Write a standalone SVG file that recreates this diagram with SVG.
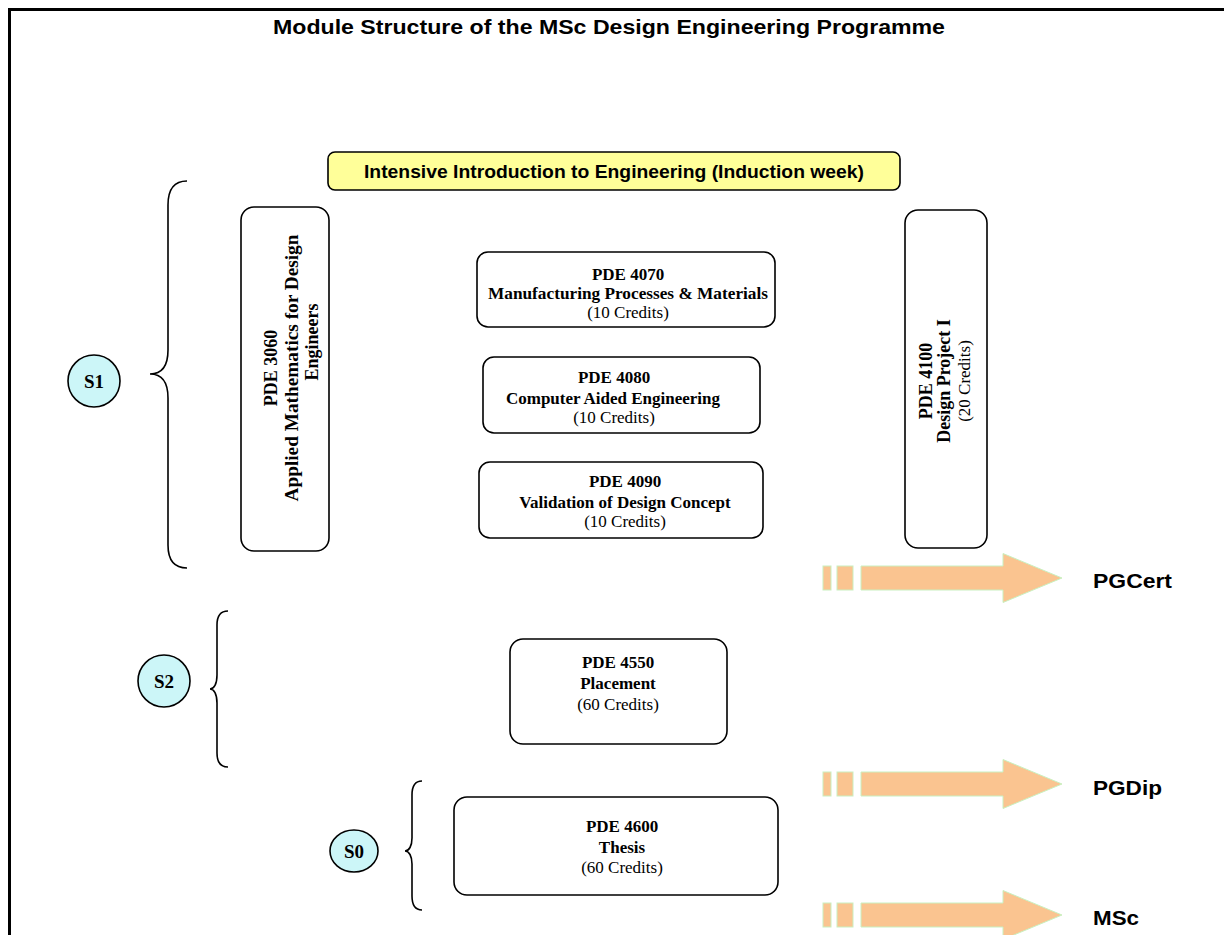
<svg xmlns="http://www.w3.org/2000/svg" width="1224" height="935" viewBox="0 0 1224 935">
<style>
.box{fill:#fff;stroke:#000;stroke-width:1.6}
.ind{fill:#ffff99;stroke:#000;stroke-width:1.6}
.b{font-family:"Liberation Serif","Times New Roman",serif;font-weight:bold;font-size:17px;fill:#000;text-anchor:middle}
.n{font-family:"Liberation Serif","Times New Roman",serif;font-size:17px;fill:#000;text-anchor:middle}
.vb{font-family:"Liberation Serif","Times New Roman",serif;font-weight:bold;font-size:18px;fill:#000;text-anchor:middle}
.vn{font-family:"Liberation Serif","Times New Roman",serif;font-size:17px;fill:#000;text-anchor:middle}
.sans{font-family:"Liberation Sans",Arial,sans-serif;font-weight:bold;fill:#000}
.sem{fill:#ccf6f8;stroke:#000;stroke-width:1.6}
.st{font-family:"Liberation Serif","Times New Roman",serif;font-weight:bold;font-size:19px;fill:#000;text-anchor:middle}
.brace{fill:none;stroke:#000;stroke-width:1.6}
.arr{fill:#fac490;stroke:#c9f0c0;stroke-width:1}
</style>
<defs>
<g id="bigarrow">
<rect class="arr" x="823" y="-12" width="8" height="24"/>
<rect class="arr" x="837" y="-12" width="16" height="24"/>
<path class="arr" d="M861,-12 H1003 V-24.5 L1062,0 L1003,24.5 V12 H861 Z"/>
</g>
</defs>

<g id="frame">
<path d="M8,9.5 H1224 M9.5,8 V935" fill="none" stroke="#000" stroke-width="3"/>
</g>

<g id="title">
<text class="sans" x="609" y="34" font-size="21" text-anchor="middle" textLength="672" lengthAdjust="spacingAndGlyphs">Module Structure of the MSc Design Engineering Programme</text>
</g>

<g id="induction">
<rect class="ind" x="328" y="152" width="572" height="38" rx="7"/>
<text class="sans" x="614" y="178" font-size="18" text-anchor="middle" textLength="500" lengthAdjust="spacingAndGlyphs">Intensive Introduction to Engineering (Induction week)</text>
</g>

<g id="pde3060">
<rect class="box" x="241" y="207" width="88" height="344" rx="13"/>
<text class="vb" transform="translate(277,368) rotate(-90)">PDE 3060</text>
<text class="vb" transform="translate(298,368) rotate(-90)" textLength="267" lengthAdjust="spacingAndGlyphs">Applied Mathematics for Design</text>
<text class="vb" transform="translate(318,342) rotate(-90)">Engineers</text>
</g>

<g id="pde4070">
<rect class="box" x="477" y="252" width="298" height="75" rx="11"/>
<text class="b" x="628" y="280">PDE 4070</text>
<text class="b" x="628" y="299" textLength="280" lengthAdjust="spacingAndGlyphs">Manufacturing Processes &amp; Materials</text>
<text class="n" x="628" y="318">(10 Credits)</text>
</g>

<g id="pde4080">
<rect class="box" x="483" y="357" width="277" height="76" rx="11"/>
<text class="b" x="614" y="383">PDE 4080</text>
<text class="b" x="613" y="404">Computer Aided Engineering</text>
<text class="n" x="614" y="423">(10 Credits)</text>
</g>

<g id="pde4090">
<rect class="box" x="479" y="462" width="284" height="76" rx="11"/>
<text class="b" x="625" y="487">PDE 4090</text>
<text class="b" x="625" y="508">Validation of Design Concept</text>
<text class="n" x="625" y="527">(10 Credits)</text>
</g>

<g id="pde4100">
<rect class="box" x="905" y="210" width="82" height="338" rx="13"/>
<text class="vb" transform="translate(932,381) rotate(-90)">PDE 4100</text>
<text class="vb" transform="translate(950,381) rotate(-90)">Design Project I</text>
<text class="vn" transform="translate(970,381) rotate(-90)">(20 Credits)</text>
</g>

<g id="pde4550">
<rect class="box" x="510" y="639" width="217" height="105" rx="13"/>
<text class="b" x="618" y="668">PDE 4550</text>
<text class="b" x="618" y="689">Placement</text>
<text class="n" x="618" y="710">(60 Credits)</text>
</g>

<g id="pde4600">
<rect class="box" x="454" y="797" width="324" height="98" rx="13"/>
<text class="b" x="622" y="832">PDE 4600</text>
<text class="b" x="622" y="853">Thesis</text>
<text class="n" x="622" y="873">(60 Credits)</text>
</g>

<g id="s1">
<circle class="sem" cx="94" cy="381" r="26"/>
<text class="st" x="94" y="388">S1</text>
</g>
<g id="s2">
<circle class="sem" cx="164" cy="681" r="26"/>
<text class="st" x="164" y="688">S2</text>
</g>
<g id="s0">
<ellipse class="sem" cx="354" cy="851" rx="24" ry="21"/>
<text class="st" x="354" y="858">S0</text>
</g>

<g id="braces">
<path class="brace" d="M187,181 C174,181 168,190 168,205 L168,350 C168,366 162,374 150,374 C162,374 168,382 168,398 L168,545 C168,560 174,568 187,568"/>
<path class="brace" d="M228,611 C221,611 217,616 217,625 L217,675 C217,684 214,689 210,689 C214,689 217,694 217,703 L217,753 C217,762 221,767 228,767"/>
<path class="brace" d="M422,781 C415,781 412,786 412,795 L412,838 C412,846 409,851 405,851 C409,851 412,856 412,864 L412,896 C412,905 415,910 422,910"/>
</g>

<g id="connectors">
<use href="#bigarrow" transform="translate(0,578)"/>
<use href="#bigarrow" transform="translate(0,784)"/>
<use href="#bigarrow" transform="translate(0,915)"/>
</g>

<g id="awards">
<text class="sans" x="1093" y="588" font-size="21" textLength="79" lengthAdjust="spacingAndGlyphs">PGCert</text>
<text class="sans" x="1093" y="795" font-size="21" textLength="69" lengthAdjust="spacingAndGlyphs">PGDip</text>
<text class="sans" x="1093" y="925" font-size="21" textLength="46" lengthAdjust="spacingAndGlyphs">MSc</text>
</g>
</svg>
